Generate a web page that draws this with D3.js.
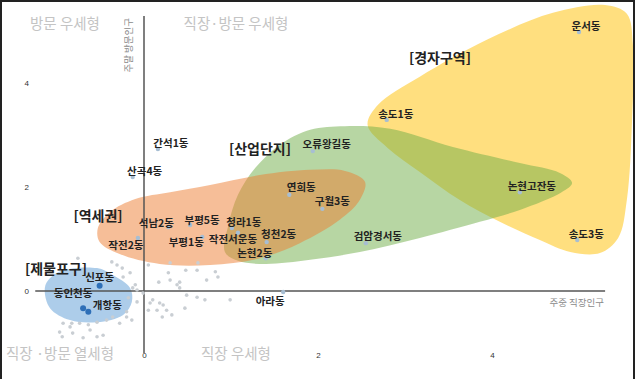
<!DOCTYPE html>
<html><head><meta charset="utf-8">
<script src="https://cdn.jsdelivr.net/npm/d3@7"></script>
<style>
html,body{margin:0;padding:0;background:#fff;}
svg{display:block;font-family:"Noto Sans CJK KR","Noto Sans",sans-serif;}
</style></head>
<body>
<svg id="c" width="640" height="379"></svg>
<script>
// ---------- data ----------
const xTicks = [0, 2, 4];
const yTicks = [0, 2, 4];
const quadrantLabels = ["방문 우세형", "직장·방문 우세형", "직장 ·방문 열세형", "직장 우세형"];
const xAxisTitle = "주중 직장인구";
const yAxisTitle = "주말 방문인구";
const groupNames = ["[경자구역]", "[산업단지]", "[역세권]", "[제물포구]"];

const dongNames = ["운서동","송도1동","오류왕길동","연희동","구월3동","검암경서동","논현고잔동","송도3동",
  "간석1동","산곡4동","석남2동","부평5동","청라1동","작전서운동","청천2동","논현2동","부평1동","작전2동","아라동",
  "신포동","동인천동","개항동"];
const dongX = [5.00,2.79,1.94,1.67,2.05,2.55,4.32,4.98,0.16,-0.13,0.28,0.53,1.01,1.08,1.41,1.40,0.67,-0.07,1.60,-0.51,-0.70,-0.64];
const dongY = [4.98,3.29,2.69,1.85,1.58,0.92,1.90,0.98,2.73,2.19,1.23,1.27,1.21,1.12,0.94,0.63,1.04,1.02,-0.02,0.10,-0.33,-0.40];
const jemulpoDongs = ["신포동","동인천동","개항동"];

const otherX = [0.05,0.28,0.30,0.17,0.48,0.41,0.38,0.61,0.62,0.72,0.82,0.30,-0.16,-0.24,-0.10,-0.08,-0.01,0.99,0.70,0.61,0.49,0.10,0.18,0.07,0.22,0.05,0.26,0.32,0.21,0.47,-0.14,-0.08,-0.28,-0.37,-0.31,-0.93,-0.85,-0.74,-0.64,-0.54,-0.43,-0.36,-0.20,-0.18,-0.13,-0.82,-0.97,-0.70,-0.47,-0.76,-0.25,0.85,0.41,0.15,-0.20,-0.83,-0.94,-0.62,-0.54];
const otherY = [0.50,0.35,0.21,0.17,0.40,0.17,0.12,0.40,0.54,0.21,0.37,0.54,0.35,0.27,0.12,0.02,-0.04,-0.17,-0.17,-0.12,-0.08,-0.17,-0.23,-0.23,-0.27,-0.37,-0.37,-0.46,-0.50,-0.33,-0.56,-0.21,-0.62,0.56,0.50,-0.62,-0.69,-0.62,-0.65,-0.60,-0.56,-0.50,-0.40,-0.13,0.06,-0.81,-0.79,-0.90,-0.85,0.63,0.44,0.27,0.06,-0.37,-0.50,-0.62,-0.88,-0.75,-0.88];

// group outlines (data units)
const gyeongjaX = [2.57,2.69,3.17,3.94,4.70,5.30,5.55,5.62,5.61,5.55,5.45,5.24,4.90,4.55,4.09,3.63,3.17,2.80];
const gyeongjaY = [3.19,3.58,4.12,4.83,5.35,5.50,5.33,4.73,3.29,1.75,1.02,0.73,0.75,0.98,1.33,1.75,2.29,2.75];
const sanupX = [0.93,0.97,1.08,1.28,1.56,1.91,2.31,2.83,3.55,4.32,4.78,4.92,4.80,4.32,3.86,3.17,2.48,1.91,1.39,1.08];
const sanupY = [0.75,1.27,1.85,2.37,2.81,3.10,3.17,3.12,2.77,2.46,2.27,2.08,1.90,1.56,1.33,1.02,0.75,0.60,0.52,0.58];
const yeoksekwonX = [-0.53,-0.39,-0.10,0.30,0.76,1.33,1.91,2.31,2.54,2.48,2.25,1.79,1.33,0.76,0.18,-0.28,-0.51];
const yeoksekwonY = [1.21,1.52,1.77,1.90,2.04,2.23,2.33,2.31,2.10,1.75,1.37,0.92,0.63,0.50,0.52,0.71,0.94];
const jemulpoX = [-1.08,-0.93,-0.54,-0.36,-0.16,-0.14,-0.24,-0.54,-0.85,-1.08,-1.14];
const jemulpoY = [0.25,0.40,0.44,0.31,0.06,-0.21,-0.46,-0.60,-0.56,-0.33,0.06];

// ---------- layout ----------
const W = 640, H = 379;
const svg = d3.select("#c");
const x = d3.scaleLinear().domain([0, 2]).range([144, 318]);
const y = d3.scaleLinear().domain([0, 2]).range([291, 187]);

const blobs = [
  {xs: gyeongjaX, ys: gyeongjaY, color: "#FFC000"},
  {xs: sanupX, ys: sanupY, color: "#70AD47"},
  {xs: yeoksekwonX, ys: yeoksekwonY, color: "#ED7D31"},
  {xs: jemulpoX, ys: jemulpoY, color: "#5B9BD5"}
];
const line = d3.line().x(d => x(d[0])).y(d => y(d[1])).curve(d3.curveCatmullRomClosed.alpha(0.5));
blobs.forEach(b => {
  const pts = b.xs.map((v, i) => [v, b.ys[i]]);
  svg.append("path").attr("d", line(pts)).attr("fill", b.color).attr("fill-opacity", 0.5).attr("stroke", "none");
});

// axes lines
const xDom = [-1.25, 5.3], yDom = [-1.19, 5.29];
svg.append("line").attr("x1", x(xDom[0])).attr("x2", x(xDom[1])).attr("y1", y(0)).attr("y2", y(0))
  .attr("stroke", "#555").attr("stroke-width", 1.5);
svg.append("line").attr("x1", x(0)).attr("x2", x(0)).attr("y1", y(yDom[1])).attr("y2", y(yDom[0]))
  .attr("stroke", "#555").attr("stroke-width", 1.5);

// tick labels via axes
const xAxis = d3.axisBottom(x).tickValues(xTicks).tickSize(0).tickPadding(0).tickFormat(d3.format("d"));
const gx = svg.append("g").attr("transform", "translate(0,352)").call(xAxis);
gx.select(".domain").remove();
gx.selectAll("text").attr("font-size", 8).attr("fill", "#333").attr("font-family", "Liberation Sans, Arial, sans-serif");
const yAxis = d3.axisLeft(y).tickValues(yTicks).tickSize(0).tickPadding(0).tickFormat(d3.format("d"));
const gy = svg.append("g").attr("transform", "translate(29,0)").call(yAxis);
gy.select(".domain").remove();
gy.selectAll("text").attr("font-size", 8).attr("fill", "#333").attr("font-family", "Liberation Sans, Arial, sans-serif");

// quadrant labels
const quadPos = [[65, 22], [236, 22], [60, 352], [236, 352]];
quadrantLabels.forEach((t, i) => {
  svg.append("text").attr("x", quadPos[i][0]).attr("y", quadPos[i][1]).attr("text-anchor", "middle")
    .attr("dominant-baseline", "central").attr("font-size", 14.5).attr("fill", "#c4c4c4").text(t);
});

// axis titles
svg.append("text").attr("x", 604).attr("y", 302).attr("text-anchor", "end").attr("dominant-baseline", "central")
  .attr("font-size", 9.5).attr("fill", "#8a8a8a").text(xAxisTitle);
svg.append("text").attr("transform", "translate(128,18) rotate(-90)").attr("text-anchor", "end")
  .attr("dominant-baseline", "central").attr("font-size", 9.5).attr("fill", "#8a8a8a").text(yAxisTitle);

// other (grey) points
svg.append("g").selectAll("circle").data(otherX.map((v, i) => [v, otherY[i]])).join("circle")
  .attr("cx", d => x(d[0])).attr("cy", d => y(d[1])).attr("r", 1.8).attr("fill", "#c9ced3");

// labelled points
const dongs = dongNames.map((n, i) => ({name: n, x: dongX[i], y: dongY[i]}));
svg.append("g").selectAll("circle").data(dongs).join("circle")
  .attr("cx", d => x(d.x)).attr("cy", d => y(d.y))
  .attr("r", d => jemulpoDongs.includes(d.name) ? 3 : 2.2)
  .attr("fill", d => jemulpoDongs.includes(d.name) ? "#2e6fb7" : "#a7bed3");

// label offsets (px, from point to text centre)
const labelOffset = {
  "운서동":[7,-7],"송도1동":[9,-6],"오류왕길동":[14,-8],"연희동":[12,-8],"구월3동":[10,-8],"검암경서동":[12,-8],
  "논현고잔동":[12,-7],"송도3동":[9,-7],"간석1동":[13,-7],"산곡4동":[12,-7],"석남2동":[-12,-5],"부평5동":[12,-5],
  "청라1동":[12,-7],"작전서운동":[-5,6],"청천2동":[12,-9],"논현2동":[-11,-6],"부평1동":[-16,5],"작전2동":[-12,7],
  "아라동":[-13,8],"신포동":[0,-9],"동인천동":[-10,-16],"개항동":[19,-7]
};
svg.append("g").selectAll("text").data(dongs).join("text")
  .attr("x", d => x(d.x) + labelOffset[d.name][0]).attr("y", d => y(d.y) + labelOffset[d.name][1])
  .attr("text-anchor", "middle").attr("dominant-baseline", "central")
  .attr("font-size", 10.5).attr("font-weight", "bold").attr("fill", "#222").text(d => d.name);

// group labels
const groupPos = [[440, 57], [260, 148], [98, 215], [56, 268]];
groupNames.forEach((t, i) => {
  svg.append("text").attr("x", groupPos[i][0]).attr("y", groupPos[i][1]).attr("text-anchor", "middle")
    .attr("dominant-baseline", "central").attr("font-size", 14).attr("font-weight", "bold").attr("fill", "#222").text(t);
});

// frame (left, top, right)
svg.append("path").attr("d", `M1,${H} L1,1 L${W-6},1 L${W-6},${H}`).attr("fill", "none").attr("stroke", "#222").attr("stroke-width", 2);
</script>
</body></html>
